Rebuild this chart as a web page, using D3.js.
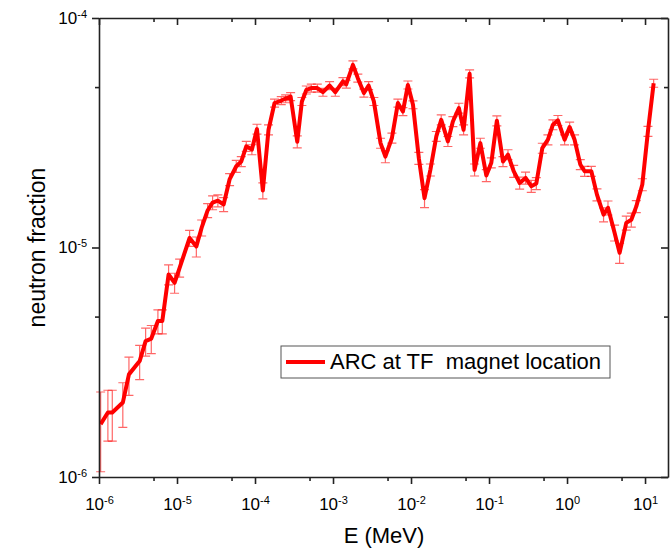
<!DOCTYPE html>
<html>
<head>
<meta charset="utf-8">
<script src="https://cdn.jsdelivr.net/npm/d3@7"></script>
<style>
  body { margin: 0; background: #fff; }
  text { font-family: "Liberation Sans", Arial, sans-serif; }
</style>
</head>
<body>
<div id="canvas"></div>
<script>
// energy (MeV) of each point
let energy = [1.05e-6, 1.30e-6, 1.48e-6, 2.02e-6, 2.42e-6, 3.32e-6, 3.96e-6, 4.68e-6, 5.69e-6, 6.48e-6,
  7.80e-6, 9.31e-6, 1.08e-5, 1.45e-5, 1.77e-5, 2.07e-5, 2.47e-5, 2.86e-5, 3.34e-5, 3.96e-5,
  4.72e-5, 5.75e-5, 6.67e-5, 7.73e-5, 9.12e-5, 1.06e-4, 1.26e-4, 1.49e-4, 1.78e-4, 2.17e-4,
  2.47e-4, 2.86e-4, 3.48e-4, 3.99e-4, 4.55e-4, 5.27e-4, 6.29e-4, 7.43e-4, 9.04e-4, 1.07e-3,
  1.34e-3, 1.48e-3, 1.80e-3, 2.08e-3, 2.49e-3, 2.86e-3, 3.34e-3, 4.07e-3, 4.69e-3, 5.69e-3,
  6.79e-3, 7.87e-3, 9.12e-3, 1.06e-2, 1.26e-2, 1.49e-2, 1.77e-2, 2.11e-2, 2.44e-2, 2.97e-2,
  3.44e-2, 4.11e-2, 4.72e-2, 5.64e-2, 6.53e-2, 7.74e-2, 9.23e-2, 0.107, 0.126, 0.151,
  0.175, 0.207, 0.247, 0.294, 0.348, 0.404, 0.482, 0.569, 0.659, 0.764,
  0.931, 1.08, 1.25, 1.48, 1.68, 2.05, 2.42, 2.94, 3.35, 4.07,
  4.72, 5.75, 6.67, 7.73, 9.23, 10.9, 12.9];

// neutron fraction
let fraction = [1.70e-6, 1.91e-6, 1.91e-6, 2.11e-6, 2.80e-6, 3.20e-6, 3.91e-6, 4.01e-6, 4.78e-6, 4.78e-6,
  7.63e-6, 7.02e-6, 8.16e-6, 1.10e-5, 1.01e-5, 1.22e-5, 1.45e-5, 1.57e-5, 1.60e-5, 1.54e-5,
  1.98e-5, 2.26e-5, 2.37e-5, 2.76e-5, 2.67e-5, 3.28e-5, 1.77e-5, 3.26e-5, 4.26e-5, 4.37e-5,
  4.45e-5, 4.55e-5, 2.89e-5, 4.33e-5, 4.86e-5, 4.95e-5, 4.95e-5, 4.75e-5, 5.08e-5, 4.75e-5,
  5.29e-5, 5.15e-5, 6.25e-5, 5.47e-5, 4.71e-5, 5.08e-5, 4.33e-5, 2.85e-5, 2.49e-5, 3.00e-5,
  4.26e-5, 3.91e-5, 5.11e-5, 4.19e-5, 2.45e-5, 1.64e-5, 2.18e-5, 3.05e-5, 3.60e-5, 2.90e-5,
  3.54e-5, 4.05e-5, 3.26e-5, 5.71e-5, 2.18e-5, 2.85e-5, 2.06e-5, 2.34e-5, 3.57e-5, 2.37e-5,
  2.54e-5, 2.15e-5, 1.91e-5, 2.01e-5, 1.85e-5, 1.90e-5, 2.71e-5, 2.95e-5, 3.43e-5, 3.58e-5,
  2.95e-5, 3.35e-5, 2.95e-5, 2.30e-5, 2.15e-5, 2.15e-5, 1.70e-5, 1.39e-5, 1.49e-5, 1.16e-5,
  9.48e-6, 1.28e-5, 1.32e-5, 1.51e-5, 1.88e-5, 3.21e-5, 5.20e-5];

// relative statistical error of each point
let relErr = [0.38, 0.25, 0.25, 0.22, 0.19, 0.17, 0.14, 0.14, 0.12, 0.12,
  0.10, 0.10, 0.09, 0.08, 0.10, 0.08, 0.07, 0.07, 0.06, 0.07,
  0.06, 0.06, 0.05, 0.05, 0.05, 0.05, 0.08, 0.05, 0.04, 0.04,
  0.04, 0.04, 0.06, 0.04, 0.04, 0.04, 0.04, 0.04, 0.04, 0.04,
  0.04, 0.04, 0.04, 0.04, 0.04, 0.04, 0.04, 0.05, 0.06, 0.05,
  0.04, 0.04, 0.04, 0.04, 0.06, 0.09, 0.06, 0.05, 0.05, 0.05,
  0.05, 0.05, 0.05, 0.04, 0.06, 0.05, 0.06, 0.05, 0.05, 0.05,
  0.05, 0.06, 0.06, 0.06, 0.06, 0.06, 0.05, 0.05, 0.05, 0.05,
  0.05, 0.05, 0.05, 0.05, 0.05, 0.05, 0.06, 0.07, 0.07, 0.08,
  0.10, 0.07, 0.07, 0.06, 0.06, 0.05, 0.04];

let xMajor = [1e-6, 1e-5, 1e-4, 1e-3, 1e-2, 1e-1, 1e0, 1e1];
let xMinor = [5e-6, 5e-5, 5e-4, 5e-3, 5e-2, 5e-1, 5e0];
let yMajor = [1e-6, 1e-5, 1e-4];
let yMinor = [5e-6, 5e-5];
let legendLabel = "ARC at TF  magnet location";

let width = 672;
let height = 550;
let margin = { top: 18, right: 4, bottom: 73, left: 99 };

let data = energy.map((e, i) => ({ e: e, f: fraction[i], err: fraction[i] * relErr[i] }));

let escalaX = d3.scaleLog()
  .domain([1e-6, 19.7])
  .range([margin.left, width - margin.right]);
let escalaY = d3.scaleLog()
  .domain([1e-6, 1e-4])
  .range([height - margin.bottom, margin.top]);

let svg = d3.select("#canvas")
  .append("svg")
  .attr("width", width)
  .attr("height", height);

// error bars
let barras = svg.append("g")
  .attr("stroke", "rgba(255,0,0,0.6)")
  .attr("stroke-width", 1.2)
  .attr("fill", "none");
data.forEach(d => {
  let x = escalaX(d.e);
  let y0 = escalaY(d.f - d.err);
  let y1 = escalaY(d.f + d.err);
  barras.append("path")
    .attr("d", `M${x},${y0}V${y1}M${x - 4.5},${y0}H${x + 4.5}M${x - 4.5},${y1}H${x + 4.5}`);
});

// main curve
let linea = d3.line()
  .x(d => escalaX(d.e))
  .y(d => escalaY(d.f));
svg.append("path")
  .datum(data)
  .attr("d", linea)
  .attr("fill", "none")
  .attr("stroke", "#ff0000")
  .attr("stroke-width", 4)
  .attr("stroke-linejoin", "round");

// superscript labels 10^n
function potencia(sel) {
  sel.each(function (d) {
    let t = d3.select(this);
    t.text(null);
    t.append("tspan").text("10");
    t.append("tspan").attr("dy", "-0.55em").attr("font-size", 11).text(Math.round(Math.log10(d)));
  });
}

function estiloEje(g) {
  g.select(".domain").attr("stroke", "#222").attr("stroke-width", 1.6);
  g.selectAll(".tick line").attr("stroke", "#222").attr("stroke-width", 1.6);
}

let yBottom = height - margin.bottom;
let xRight = width - margin.right;

// bottom axis
let ejeX = svg.append("g")
  .attr("transform", "translate(0," + yBottom + ")")
  .call(d3.axisBottom(escalaX).tickValues(xMajor).tickSize(7).tickSizeOuter(0).tickPadding(10));
ejeX.call(estiloEje);
ejeX.selectAll(".tick text").attr("font-size", 17).attr("fill", "#000").attr("dy", "0.95em").call(potencia);
svg.append("g")
  .attr("transform", "translate(0," + yBottom + ")")
  .call(d3.axisBottom(escalaX).tickValues(xMinor).tickSize(4).tickSizeOuter(0).tickFormat(""))
  .call(estiloEje)
  .select(".domain").remove();

// top axis (inward ticks)
svg.append("g")
  .attr("transform", "translate(0," + margin.top + ")")
  .call(d3.axisBottom(escalaX).tickValues(xMajor).tickSize(7).tickSizeOuter(0).tickFormat(""))
  .call(estiloEje);
svg.append("g")
  .attr("transform", "translate(0," + margin.top + ")")
  .call(d3.axisBottom(escalaX).tickValues(xMinor).tickSize(4).tickSizeOuter(0).tickFormat(""))
  .call(estiloEje)
  .select(".domain").remove();

// left axis
let ejeY = svg.append("g")
  .attr("transform", "translate(" + margin.left + ",0)")
  .call(d3.axisLeft(escalaY).tickValues(yMajor).tickSize(7).tickSizeOuter(0).tickPadding(5));
ejeY.call(estiloEje);
ejeY.selectAll(".tick text").attr("font-size", 17).attr("fill", "#000").call(potencia);
svg.append("g")
  .attr("transform", "translate(" + margin.left + ",0)")
  .call(d3.axisLeft(escalaY).tickValues(yMinor).tickSize(4).tickSizeOuter(0).tickFormat(""))
  .call(estiloEje)
  .select(".domain").remove();

// right axis (inward ticks)
svg.append("g")
  .attr("transform", "translate(" + xRight + ",0)")
  .call(d3.axisLeft(escalaY).tickValues(yMajor).tickSize(7).tickSizeOuter(0).tickFormat(""))
  .call(estiloEje);
svg.append("g")
  .attr("transform", "translate(" + xRight + ",0)")
  .call(d3.axisLeft(escalaY).tickValues(yMinor).tickSize(4).tickSizeOuter(0).tickFormat(""))
  .call(estiloEje)
  .select(".domain").remove();

// axis titles
svg.append("text")
  .attr("x", 384)
  .attr("y", 543)
  .attr("text-anchor", "middle")
  .attr("font-size", 22)
  .text("E (MeV)");
svg.append("text")
  .attr("transform", "translate(45," + (margin.top + yBottom) / 2 + ") rotate(-90)")
  .attr("text-anchor", "middle")
  .attr("font-size", 23)
  .text("neutron fraction");

// legend
let leyenda = svg.append("g").attr("transform", "translate(281,346)");
leyenda.append("rect")
  .attr("width", 329)
  .attr("height", 32)
  .attr("fill", "#fff")
  .attr("stroke", "#555")
  .attr("stroke-width", 1);
leyenda.append("line")
  .attr("x1", 5).attr("x2", 44)
  .attr("y1", 16).attr("y2", 16)
  .attr("stroke", "#ff0000")
  .attr("stroke-width", 4);
leyenda.append("text")
  .attr("x", 49)
  .attr("y", 23)
  .attr("font-size", 22)
  .style("white-space", "pre")
  .text(legendLabel);
</script>
</body>
</html>
